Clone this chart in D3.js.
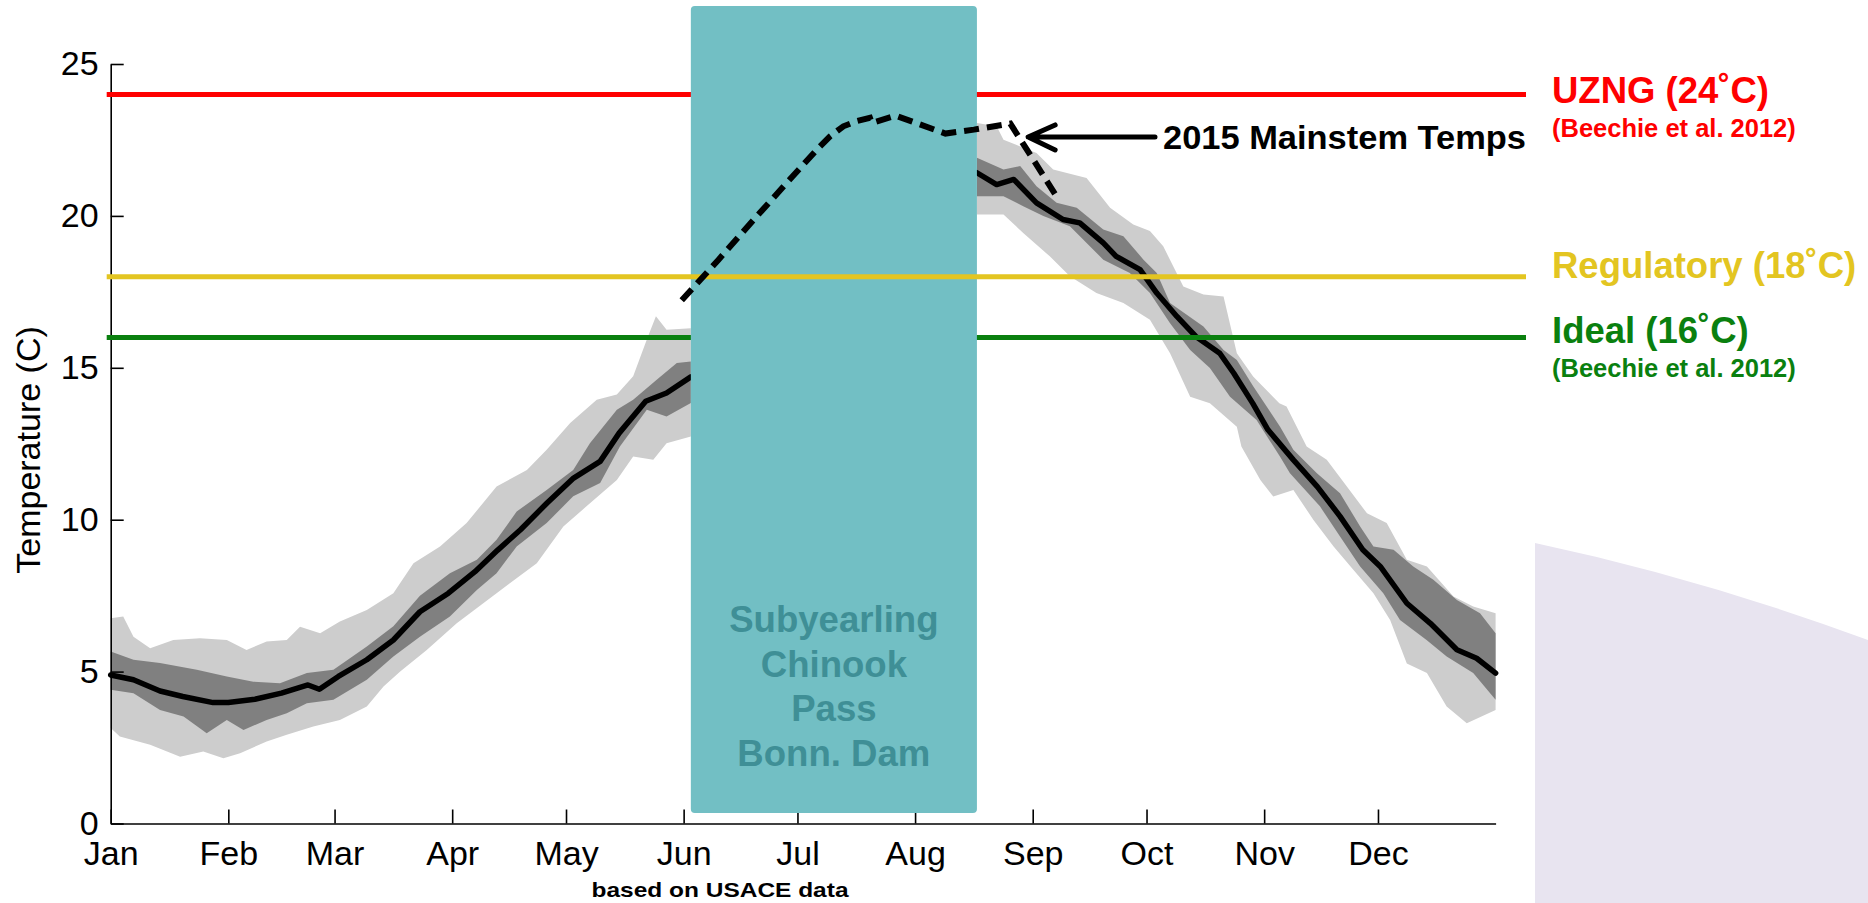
<!DOCTYPE html>
<html>
<head>
<meta charset="utf-8">
<script src="https://cdn.jsdelivr.net/npm/d3@7"></script>
<style>
  html, body { margin: 0; padding: 0; background: #ffffff; }
  svg { display: block; }
  text { font-family: "Liberation Sans", Arial, Helvetica, sans-serif; }
</style>
</head>
<body>
<svg id="chart" width="1868" height="903"></svg>
<script>
// ---- Axis categories and ticks ----
const months = ["Jan", "Feb", "Mar", "Apr", "May", "Jun", "Jul", "Aug", "Sep", "Oct", "Nov", "Dec"];
const monthStartDay = [0, 31, 59, 90, 120, 151, 181, 212, 243, 273, 304, 334];
const tempTicks = [0, 5, 10, 15, 20, 25];

// ---- Daily mean water temperature, [day of year, °C] ----
const meanLine = [
  [0,4.89],[6,4.73],[13,4.36],[19,4.18],[27,3.98],[31,3.98],[38,4.09],[45,4.29],[52,4.56],[55,4.42],
  [60,4.84],[67.5,5.39],[74.5,6.04],[81.5,6.97],[89,7.58],[96,8.29],[102,9.0],[108,9.67],[115,10.55],
  [122,11.37],[129,11.92],[134,12.85],[141,13.9],[146.5,14.17],[152.9,14.7],
  [228.3,21.42],[233.5,21.03],[238,21.2],[244,20.43],[251,19.88],[255.4,19.77],[261.6,19.11],[265,18.67],
  [271.3,18.23],[275.7,17.46],[281,16.69],[286,16.03],[292.3,15.48],[296,14.82],[301,13.83],[305,12.96],
  [311.7,11.97],[318,11.09],[324,10.11],[330,9.01],[334.6,8.46],[341.6,7.25],[347.8,6.59],[354.8,5.72],
  [360,5.44],[365,4.95]
];

// ---- Inner (dark) range ----
const darkUpper = [
  [0,5.66],[6,5.39],[13,5.28],[22.7,5.06],[30.6,4.84],[37.6,4.67],[44.6,4.62],[51.7,4.95],[58.7,5.06],
  [67.5,5.83],[74.5,6.49],[81.5,7.5],[89.4,8.24],[96.5,8.68],[101.7,9.34],[107,10.27],[114.9,10.98],
  [121.9,11.64],[126.3,12.52],[133.4,13.62],[137.7,13.95],[143.9,14.61],[149.2,15.16],[152.9,15.21],
  [228.3,21.91],[235.3,21.53],[239.7,21.64],[244,20.98],[249.3,20.43],[254.6,20.27],[261.6,19.55],
  [266.9,19.33],[272.2,18.56],[275.7,18.12],[279.2,17.13],[288,16.36],[293.3,15.59],[296.8,15.26],
  [301.2,14.38],[308.2,13.06],[311.7,12.3],[317.9,11.53],[324,10.87],[329.3,9.78],[332.8,9.12],
  [338.1,9.01],[343.3,8.46],[348.6,8.02],[354.8,7.36],[360.9,6.92],[365,6.26]
];
const darkLower = [
  [0,4.4],[6,4.29],[13,3.74],[19.2,3.52],[25.3,2.97],[30.6,3.41],[35,3.08],[41.1,3.41],[46.4,3.63],
  [51.7,3.96],[58.7,4.07],[67.5,4.73],[74.5,5.5],[81.5,6.15],[89.4,6.81],[96.5,7.69],[101.7,8.24],
  [107,9.12],[114.9,9.89],[121.9,10.77],[129,11.21],[134.2,12.41],[141.3,13.62],[146.5,13.4],[152.9,13.84],
  [228.3,20.65],[235.3,20.65],[240.5,20.32],[245.8,20.0],[252.8,19.66],[261.6,18.56],[268.6,18.12],
  [273.9,17.46],[279.2,16.47],[284.5,15.59],[289.7,14.99],[295,14.05],[302,13.28],[308.2,12.07],
  [310.8,11.53],[318.7,10.44],[324,9.45],[329.3,8.46],[335.4,7.58],[339.8,6.7],[346.8,6.04],
  [352.1,5.5],[359.1,4.95],[365,4.07]
];

// ---- Outer (light) range ----
const lightUpper = [
  [0,6.76],[3.3,6.81],[6,6.15],[10.4,5.77],[16.5,6.04],[23.5,6.1],[30.6,6.04],[35.8,5.71],[41.1,5.99],
  [46.4,6.04],[49.9,6.48],[55.2,6.26],[60.4,6.65],[67.5,7.03],[74.5,7.58],[79.8,8.57],[86.8,9.12],
  [93.8,9.89],[101.7,11.09],[109.7,11.64],[114.9,12.3],[121.1,13.18],[128.1,13.95],[133.4,14.12],
  [137.7,14.72],[141.3,15.93],[143.7,16.7],[146.5,16.25],[152.9,16.3],
  [228.3,23.06],[233.5,22.95],[235.3,22.51],[244,22.07],[248.4,21.53],[257.2,21.25],[263.4,20.27],
  [269.5,19.72],[273.9,19.5],[277.4,19.0],[282.7,17.68],[288,17.41],[293.3,17.35],[296.8,15.48],
  [301.1,14.71],[308,13.83],[309.9,13.73],[315.2,12.41],[320.5,11.97],[325.8,11.09],[331.1,10.21],
  [336.3,9.89],[341.6,8.68],[346.9,8.46],[353.9,7.47],[359.1,7.14],[365,6.92]
];
const lightLower = [
  [0,3.14],[2.4,2.86],[10.4,2.59],[18.3,2.2],[24.4,2.37],[29.7,2.15],[34.1,2.31],[41.1,2.7],[46.4,2.92],
  [53.4,3.19],[60.4,3.41],[67.5,3.85],[71.9,4.51],[76.3,5.0],[83.3,5.71],[91.2,6.59],[98.2,7.25],
  [105.2,7.91],[112.3,8.57],[119.3,9.78],[125.4,10.44],[133.4,11.31],[137.7,12.08],[143,11.97],
  [146.5,12.52],[152.9,12.74],
  [228.3,20.05],[235.3,20.05],[240.5,19.44],[247.5,18.67],[252.8,18.01],[259.8,17.46],[266.9,17.13],
  [273.9,16.58],[279.2,15.48],[284.5,14.05],[289.7,13.83],[296.8,13.06],[298,12.41],[303,11.31],
  [306.4,10.76],[311.7,10.98],[317,9.99],[322.3,9.12],[327.5,8.35],[332.8,7.58],[337.2,6.7],
  [341.6,5.27],[346.9,4.95],[352.1,3.85],[357.4,3.3],[365,3.74]
];

// ---- 2015 mainstem temperatures ----
const mainstem2015 = [
  [150.5,17.22],[160.2,18.56],[170.3,19.99],[178.2,21.09],[186.1,22.18],[189.6,22.62],[193.1,22.95],
  [196.6,23.12],[200.1,23.23],[200.6,23.06],[206.9,23.3],[220,22.71],[227.5,22.84],[237.1,23.04],
  [249.8,20.54]
];

// ---- Temperature criteria ----
const criteria = [
  { name: "UZNG", value: 24, color: "#FF0000" },
  { name: "Regulatory", value: 18, color: "#E3C521" },
  { name: "Ideal", value: 16, color: "#0A800F" }
];

// Subyearling Chinook passage window at Bonneville Dam (day of year)
const passWindow = [152.9, 228.3];
const passLabel = ["Subyearling", "Chinook", "Pass", "Bonn. Dam"];

// ---- Scales ----
const x = d3.scaleLinear().domain([0, 365]).range([110.7, 1495.6]);
const y = d3.scaleLinear().domain([0, 25]).range([823.5, 64]);

const svg = d3.select("#chart");

// Slide backdrop shape in the lower right corner
svg.append("path")
  .attr("d", "M1535,543 Q1700,578 1868,640 L1868,903 L1535,903 Z")
  .attr("fill", "#E8E4F0");

const line = d3.line().x(d => x(d[0])).y(d => y(d[1]));
const splitSeason = arr => [arr.filter(d => d[0] <= passWindow[0]), arr.filter(d => d[0] >= passWindow[1])];

function drawBand(upper, lower, color) {
  const us = splitSeason(upper), ls = splitSeason(lower);
  us.forEach((u, i) => {
    const poly = u.concat(ls[i].slice().reverse());
    svg.append("path").attr("d", line(poly) + "Z").attr("fill", color);
  });
}
drawBand(lightUpper, lightLower, "#CDCDCD");
drawBand(darkUpper, darkLower, "#808080");

splitSeason(meanLine).forEach(seg => {
  svg.append("path").attr("d", line(seg))
    .attr("fill", "none").attr("stroke", "#000").attr("stroke-width", 5.5)
    .attr("stroke-linejoin", "round").attr("stroke-linecap", "round");
});

// ---- Axes ----
const xAxis = d3.axisBottom(x)
  .tickValues(monthStartDay)
  .tickFormat((d, i) => months[i])
  .tickSizeInner(-14).tickSizeOuter(0).tickPadding(17);
const gx = svg.append("g").attr("transform", `translate(0,${y(0)})`).call(xAxis)
  .attr("font-family", '"Liberation Sans", Arial, sans-serif').attr("font-size", 34);
gx.selectAll("text").attr("fill", "#000");
gx.selectAll("line, path").attr("stroke", "#000").attr("stroke-width", 1.6);

const yAxis = d3.axisLeft(y)
  .tickValues(tempTicks)
  .tickSizeInner(-13).tickSizeOuter(0).tickPadding(12);
const gy = svg.append("g").attr("transform", `translate(${x(0)},0)`).call(yAxis)
  .attr("font-family", '"Liberation Sans", Arial, sans-serif').attr("font-size", 34);
gy.selectAll("text").attr("fill", "#000");
gy.selectAll("line, path").attr("stroke", "#000").attr("stroke-width", 1.6);

svg.append("text")
  .attr("transform", "translate(40,450) rotate(-90)")
  .attr("text-anchor", "middle")
  .attr("font-size", 34)
  .text("Temperature (C)");

svg.append("text")
  .attr("x", 720).attr("y", 897)
  .attr("text-anchor", "middle")
  .attr("font-size", 21).attr("font-weight", "bold")
  .attr("textLength", 257).attr("lengthAdjust", "spacingAndGlyphs")
  .text("based on USACE data");

// ---- Criteria lines ----
const lineX0 = x(0) - 4, lineX1 = 1526;
function drawCriterion(c) {
  svg.append("line")
    .attr("x1", lineX0).attr("x2", lineX1)
    .attr("y1", y(c.value)).attr("y2", y(c.value))
    .attr("stroke", c.color).attr("stroke-width", 5);
}
drawCriterion(criteria[0]);
drawCriterion(criteria[2]);

// ---- Passage window box ----
svg.append("rect")
  .attr("x", x(passWindow[0])).attr("y", 6)
  .attr("width", x(passWindow[1]) - x(passWindow[0])).attr("height", 807)
  .attr("rx", 4).attr("ry", 4)
  .attr("fill", "#72BFC4");
const boxCx = (x(passWindow[0]) + x(passWindow[1])) / 2;
svg.append("g").selectAll("text").data(passLabel).join("text")
  .attr("x", boxCx).attr("y", (d, i) => 632 + i * 44.5)
  .attr("text-anchor", "middle")
  .attr("font-size", 36.6).attr("font-weight", "bold")
  .attr("fill", "#3F8F96")
  .text(d => d);

drawCriterion(criteria[1]);

// ---- 2015 mainstem temperatures (dashed) ----
svg.append("path").attr("d", line(mainstem2015))
  .attr("fill", "none").attr("stroke", "#000").attr("stroke-width", 6)
  .attr("stroke-dasharray", "15,8");

// Arrow pointing at the 2015 series
const tip = [x(241.8), y(22.6)];
svg.append("path")
  .attr("d", `M${tip[0] + 27},${tip[1] - 12} L${tip[0]},${tip[1]} L${tip[0] + 27},${tip[1] + 13} M${tip[0]},${tip[1]} L1155,${tip[1]}`)
  .attr("fill", "none").attr("stroke", "#000").attr("stroke-width", 5)
  .attr("stroke-linecap", "round").attr("stroke-linejoin", "round");
svg.append("text")
  .attr("x", 1163).attr("y", 149)
  .attr("font-size", 33).attr("font-weight", "bold")
  .attr("textLength", 363).attr("lengthAdjust", "spacingAndGlyphs")
  .text("2015 Mainstem Temps");

// ---- Criteria labels ----
const labelX = 1552;
const labels = [
  { text: "UZNG (24\u02DAC)", y: 103, size: 36.5, color: criteria[0].color },
  { text: "(Beechie et al. 2012)", y: 137, size: 25.5, color: criteria[0].color },
  { text: "Regulatory (18\u02DAC)", y: 278, size: 36.5, color: criteria[1].color },
  { text: "Ideal (16\u02DAC)", y: 343, size: 36.5, color: criteria[2].color },
  { text: "(Beechie et al. 2012)", y: 377, size: 25.5, color: criteria[2].color }
];
svg.append("g").selectAll("text").data(labels).join("text")
  .attr("x", labelX).attr("y", d => d.y)
  .attr("font-size", d => d.size).attr("font-weight", "bold")
  .attr("fill", d => d.color)
  .text(d => d.text);
</script>
</body>
</html>
